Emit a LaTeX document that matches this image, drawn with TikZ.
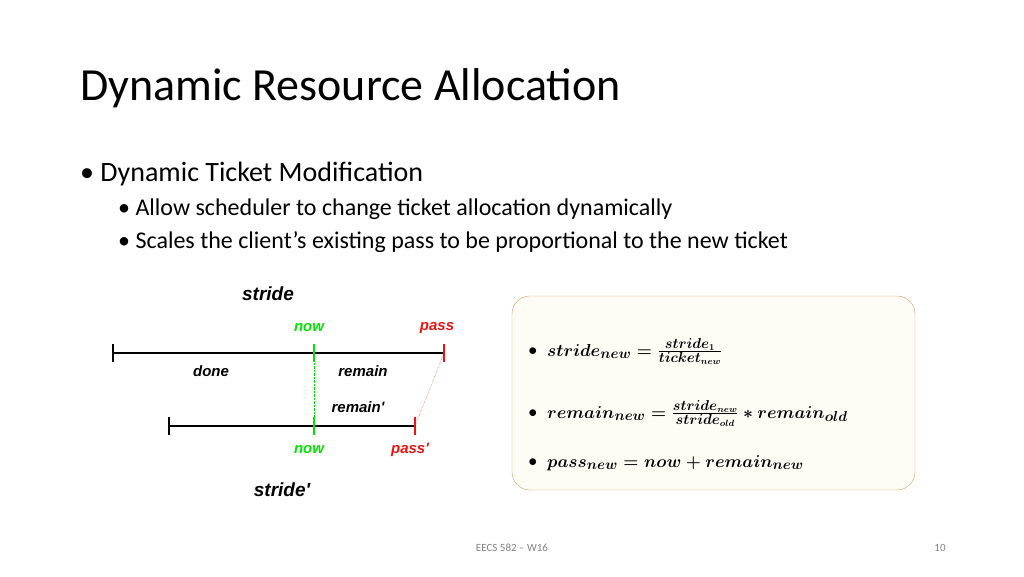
\documentclass[tikz,border=0pt]{standalone}
\usepackage{amsmath}
\usepackage{fontspec}
\setmainfont{Carlito}
\newfontfamily\arialfont{Liberation Sans}
\usetikzlibrary{positioning}
\definecolor{nowgreen}{RGB}{0,230,0}
\definecolor{passred}{RGB}{235,20,20}
\definecolor{boxedge}{RGB}{230,150,100}
\definecolor{boxfill}{RGB}{255,252,246}
\tikzset{lbl/.style={font=\arialfont\bfseries\itshape\fontsize{15}{17}\selectfont}}

\begin{document}
\begin{tikzpicture}[%
    x=1pt,
    y=-1pt,
    timeline/.style={line width=2.4pt},
    tick/.style={line width=2.8pt},
    bullettxt/.style={anchor=base west, inner sep=0},
    formula/.style={anchor=base west, inner sep=0, font=\fontsize{19}{22}\selectfont\boldmath}
    ]
  \useasboundingbox (0,0) rectangle (1024,576);
  \node[bullettxt] (title) at (80,100) {\fontsize{46}{52}\selectfont Dynamic Resource Allocation};
  \node[bullettxt] (b1) at (80,181) {\fontsize{28}{32}\selectfont \textbullet\ Dynamic Ticket Modification};
  \node[bullettxt] (b2) at (118,215) {\fontsize{24}{28}\selectfont \textbullet\ Allow scheduler to change ticket allocation dynamically};
  \node[bullettxt] (b3) at (118,248) {\fontsize{24}{28}\selectfont \textbullet\ Scales the client's existing pass to be proportional to the new ticket};
  % timelines
  \coordinate (s1) at (113,353);
  \coordinate (n1) at (314,353);
  \coordinate (p1) at (444,353);
  \coordinate (s2) at (169,426);
  \coordinate (n2) at (314,426);
  \coordinate (p2) at (415,426);
  \draw[timeline] (s1) -- (p1);
  \draw[timeline] (s2) -- (p2);
  \foreach \c in {s1,s2}
    \draw[tick] ([yshift=-9]\c) -- ([yshift=9]\c);
  \foreach \c in {n1,n2}
    \draw[tick,nowgreen] ([yshift=-9]\c) -- ([yshift=9]\c);
  \foreach \c in {p1,p2}
    \draw[tick,passred] ([yshift=-9]\c) -- ([yshift=9]\c);
  \draw[nowgreen,densely dotted] (n1) -- (n2);
  \draw[passred,densely dotted] (p1) -- (p2);
  \node[lbl,font=\arialfont\bfseries\itshape\fontsize{19}{21}\selectfont] (stride) at (268,294) {stride};
  \node[lbl,nowgreen] (now1) at (309,328) {now};
  \node[lbl,passred] (pass1) at (437,328) {pass};
  \node[lbl] (done) at (211,371) {done};
  \node[lbl] (remain) at (363,371) {remain};
  \node[lbl] (remain2) at (358,407) {remain'};
  \node[lbl,nowgreen] (now2) at (309,450) {now};
  \node[lbl,passred] (pass2) at (410,450) {pass'};
  \node[lbl,font=\arialfont\bfseries\itshape\fontsize{19}{21}\selectfont] (stride2) at (282,490) {stride'};
  % formula box
  \draw[boxedge,fill=boxfill,rounded corners=18] (512,296) rectangle (915,490);
  \node[formula] (f1) at (528,356) {\textbullet\enspace $stride_{new}=\frac{stride_1}{ticket_{new}}$};
  \node[formula] (f2) at (528,418) {\textbullet\enspace $remain_{new}=\frac{stride_{new}}{stride_{old}}*remain_{old}$};
  \node[formula] (f3) at (528,467) {\textbullet\enspace $pass_{new}=now+remain_{new}$};
  % footer
  \node[gray,font=\fontsize{11}{13}\selectfont] (foot) at (512,548) {EECS 582 -- W16};
  \node[gray,font=\fontsize{11}{13}\selectfont] (page) at (940,548) {10};
\end{tikzpicture}
\end{document}
